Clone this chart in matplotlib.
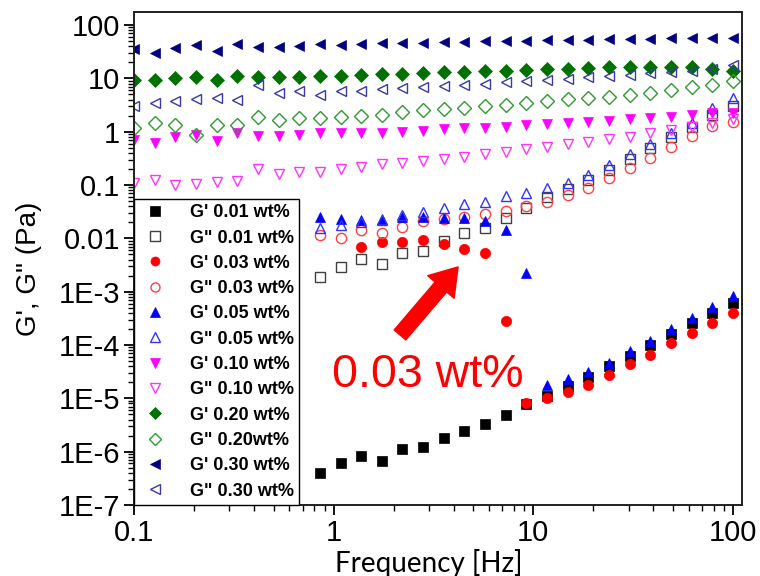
import numpy as np
import matplotlib
matplotlib.use("Agg")
from matplotlib import pyplot as plt
from matplotlib.ticker import FixedLocator, LogLocator, NullFormatter, FuncFormatter

nan = np.nan

# frequency sweep, 30 points from 0.1 to 100 Hz
freq = [0.1, 0.127, 0.161, 0.204, 0.259, 0.329, 0.418, 0.530, 0.672, 0.853,
        1.083, 1.374, 1.743, 2.212, 2.807, 3.562, 4.520, 5.736, 7.279, 9.237,
        11.72, 14.87, 18.87, 23.95, 30.39, 38.57, 48.94, 62.10, 78.80, 100.0]

# low concentrations were only measured from ~0.85 Hz
pre = [nan] * 9

g1_001 = pre + [4.0e-7, 6.1e-7, 8.3e-7, 6.7e-7, 1.12e-6, 1.22e-6, 1.81e-6, 2.44e-6, 3.3e-6, 4.9e-6,
                7.9e-6, 1.11e-5, 1.71e-5, 2.52e-5, 4.06e-5, 6.2e-5, 1.0e-4, 1.61e-4, 2.6e-4, 4.0e-4, 6.2e-4]
g2_001 = pre + [0.0019, 0.0029, 0.0041, 0.0033, 0.0053, 0.0058, 0.0090, 0.0127, 0.0157, 0.0243,
                0.037, 0.060, 0.085, 0.125, 0.193, 0.31, 0.50, 0.80, 1.24, 2.07, 3.06]
g1_003 = pre + [nan, nan, 0.0069, 0.0086, 0.0086, 0.0094, 0.0079, 0.0064, 0.0053, 2.8e-4,
                8.2e-6, 1.02e-5, 1.32e-5, 1.78e-5, 2.75e-5, 4.4e-5, 6.5e-5, 1.09e-4, 1.69e-4, 2.6e-4, 4.0e-4]
g2_003 = pre + [0.0116, 0.0102, 0.0144, 0.0127, 0.0164, 0.0213, 0.0232, 0.0253, 0.0288, 0.0328,
                0.040, 0.048, 0.065, 0.089, 0.136, 0.21, 0.32, 0.52, 0.84, 1.29, 1.5]
g1_005 = pre + [0.025, 0.0235, 0.022, 0.0235, 0.025, 0.025, 0.024, 0.024, 0.0215, 0.0145,
                0.0022, 1.8e-5, 2.3e-5, 3.1e-5, 4.6e-5, 7.8e-5, 1.2e-4, 2.0e-4, 3.2e-4, 5.2e-4, 8.3e-4]
g2_005 = pre + [0.0157, 0.0179, 0.0204, 0.0222, 0.0276, 0.0314, 0.0373, 0.0443, 0.0484, 0.0627,
                0.0715, 0.0885, 0.110, 0.155, 0.239, 0.385, 0.593, 0.953, 1.47, 2.8, 4.3]
g1_010 = [0.70, 0.61, 0.79, 0.86, 0.67, 0.94, 0.83, 0.83, 0.86, 0.94,
          0.94, 0.94, 0.94, 0.98, 1.03, 1.10, 1.17, 1.17, 1.20, 1.33,
          1.38, 1.45, 1.50, 1.57, 1.70, 1.80, 1.87, 2.05, 2.2, 2.2]
g2_010 = [0.109, 0.124, 0.10, 0.104, 0.113, 0.118, 0.20, 0.16, 0.174, 0.174,
          0.20, 0.215, 0.25, 0.255, 0.28, 0.305, 0.33, 0.38, 0.41, 0.47,
          0.51, 0.58, 0.64, 0.73, 0.79, 0.94, 1.07, 1.2, 1.45, 1.7]
g1_020 = [9.3, 9.2, 10.0, 10.8, 9.3, 11.0, 10.5, 10.5, 10.8, 11.0,
          11.3, 11.6, 12.0, 12.0, 12.5, 13.0, 13.0, 13.5, 14.0, 14.5,
          15.0, 15.0, 15.5, 16.0, 16.0, 16.0, 16.5, 16.0, 15.0, 14.0]
g2_020 = [1.17, 1.45, 1.33, 0.86, 1.33, 1.33, 1.87, 1.64, 1.8, 1.8,
          1.87, 1.97, 2.05, 2.33, 2.55, 2.66, 2.78, 3.0, 3.15, 3.4,
          3.75, 4.1, 4.3, 4.5, 4.9, 5.3, 6.0, 6.8, 7.5, 8.9]
g1_030 = [35, 30, 37, 42, 32, 44, 38, 38, 40, 44,
          43, 45, 46, 46, 47, 48, 48, 50, 50, 50,
          52, 52, 52, 54, 55, 55, 56, 57, 57, 57]
g2_030 = [3.0, 3.4, 3.75, 4.1, 4.3, 3.9, 7.5, 5.3, 5.8, 4.9,
          5.8, 5.8, 6.3, 6.6, 6.9, 7.2, 7.5, 7.8, 8.5, 8.9,
          9.3, 9.7, 10.6, 11.0, 11.6, 12.6, 13.0, 13.7, 15.0, 17.8]

series = [
    (g1_001, "G' 0.01 wt%", "s", "black", True),
    (g2_001, "G\" 0.01 wt%", "s", "#404040", False),
    (g1_003, "G' 0.03 wt%", "o", "red", True),
    (g2_003, "G\" 0.03 wt%", "o", "#ff4040", False),
    (g1_005, "G' 0.05 wt%", "^", "blue", True),
    (g2_005, "G\" 0.05 wt%", "^", "#3333ff", False),
    (g1_010, "G' 0.10 wt%", "v", "magenta", True),
    (g2_010, "G\" 0.10 wt%", "v", "#ff33ff", False),
    (g1_020, "G' 0.20 wt%", "D", "#007000", True),
    (g2_020, "G\" 0.20wt%", "D", "#339933", False),
    (g1_030, "G' 0.30 wt%", "<", "#000080", True),
    (g2_030, "G\" 0.30 wt%", "<", "#3a3aa0", False),
]

plt.rcParams['font.family'] = ['Liberation Sans', 'DejaVu Sans']

fig = plt.figure(figsize=(7.6, 5.76), dpi=100)
ax = fig.add_axes([0.1763, 0.1233, 0.8, 0.8557])

for vals, label, mk, col, filled in series:
    ms = 6.8 if mk == "D" else 7.4
    if filled:
        ax.plot(freq, vals, linestyle="none", marker=mk, ms=ms, color=col,
                markeredgewidth=0.5, label=label)
    else:
        ax.plot(freq, vals, linestyle="none", marker=mk, ms=ms, color=col,
                markerfacecolor="none", markeredgewidth=1.0, label=label)

ax.set_xscale("log")
ax.set_yscale("log")
ax.set_xlim(0.1, 111)
ax.set_ylim(1e-7, 175)

ax.yaxis.set_major_locator(FixedLocator([1e-7, 1e-6, 1e-5, 1e-4, 1e-3, 1e-2, 0.1, 1, 10, 100]))
ax.yaxis.set_minor_locator(LogLocator(base=10, subs=np.arange(2, 10), numticks=20))
ax.yaxis.set_minor_formatter(NullFormatter())


def ylab(v, pos):
    e = int(round(np.log10(v)))
    if e >= 0:
        return "%d" % (10 ** e)
    if e >= -2:
        return ("%.*f" % (-e, v))
    return "1E%d" % e


ax.yaxis.set_major_formatter(FuncFormatter(ylab))
ax.xaxis.set_major_locator(FixedLocator([0.1, 1, 10, 100]))
ax.xaxis.set_minor_locator(LogLocator(base=10, subs=np.arange(2, 10), numticks=20))
ax.xaxis.set_minor_formatter(NullFormatter())
ax.xaxis.set_major_formatter(FuncFormatter(lambda v, p: "0.1" if v < 0.5 else "%d" % v))

ax.tick_params(which="major", direction="out", length=7, width=1.3, labelsize=21, pad=3)
ax.tick_params(which="minor", direction="out", length=4, width=1.0)
for sp in ax.spines.values():
    sp.set_linewidth(1.4)
    sp.set_color("#202020")

ax.set_ylabel("G', G\" (Pa)", fontsize=20)
ax.yaxis.set_label_coords(-0.152, 0.48)
ax.set_xlabel("Frequency [Hz]", fontsize=20, family=["Lato", "DejaVu Sans"])
ax.xaxis.set_label_coords(0.485, -0.09)

leg = ax.legend(loc="lower left", bbox_to_anchor=(0, 0), borderaxespad=0,
                prop={"weight": "bold", "size": 13}, labelspacing=0.46,
                handletextpad=1.1, handlelength=1.7, borderpad=0.3,
                fancybox=False, edgecolor="black", framealpha=1, numpoints=1)
leg.get_frame().set_linewidth(1.0)
for h in leg.legend_handles:
    h.set_markersize(6.5)

ax.annotate("", xy=(0.533, 0.483), xytext=(0.4375, 0.345), xycoords="axes fraction",
            arrowprops=dict(arrowstyle="simple,head_length=0.95,head_width=1.25,tail_width=0.55",
                            mutation_scale=20, color="red", shrinkA=0, shrinkB=0))
ax.text(0.326, 0.239, "0.03 wt%", transform=ax.transAxes, color="red",
        fontsize=33.5, va="baseline", ha="left")

plt.savefig("out.png", dpi=100)
